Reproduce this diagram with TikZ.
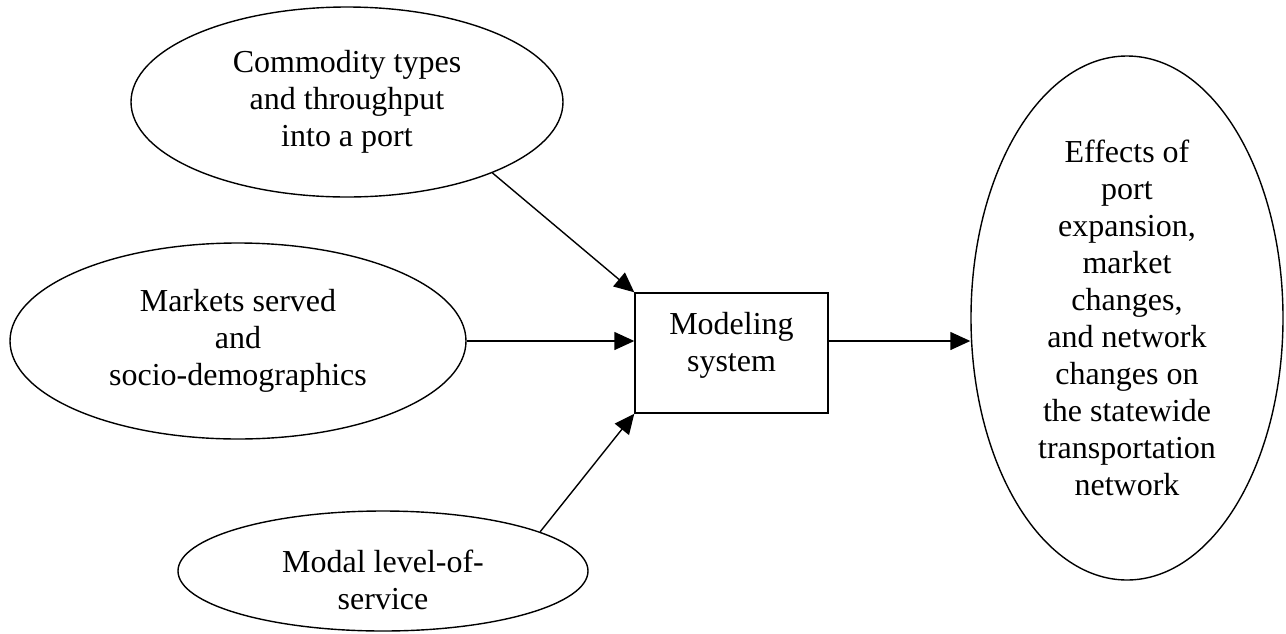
\documentclass[tikz,border=0pt]{standalone}
\usepackage{fontspec}
\setmainfont{Liberation Serif}
\usetikzlibrary{shapes.geometric,arrows.meta}

\begin{document}
\begin{tikzpicture}[x=0.5pt,y=-0.5pt,
        oval/.style={draw,ellipse,line width=0.7pt,inner sep=0pt,align=center,font=\fontsize{16}{18.5}\selectfont},
        modelbox/.style={draw,rectangle,line width=0.7pt,inner sep=0pt,align=center,font=\fontsize{16}{18.5}\selectfont},
        arr/.style={-{Triangle[length=10pt,width=9pt]},line width=0.7pt}]
        \useasboundingbox(0,0)rectangle(1286,633);

        \node[oval,minimum width=216pt,minimum height=95pt](comm)at(347,102){Commodity types\\and throughput\\into a port};
        \node[oval,minimum width=228pt,minimum height=98pt](markets)at(238,341){Markets served\\and\\socio-demographics};
        \node[oval,minimum width=205pt,minimum height=60pt,text height=38.5pt](modal)at(383,571){Modal level-of-\\service};
        \node[modelbox,minimum width=96.5pt,minimum height=60pt,text depth=11.5pt](model)at(731.5,353){Modeling\\system};
        \node[oval,minimum width=156pt,minimum height=262pt](effects)at(1127,318){Effects of\\port\\expansion,\\market\\changes,\\and network\\changes on\\the statewide\\transportation\\network};

        \draw[arr](comm.-26)--(model.north west);
        \draw[arr](markets.east)--(markets.east-|model.west);
        \draw[arr](modal.14)--(model.south west);
        \draw[arr](markets.east-|model.east)--(markets.east-|effects.west);
    \end{tikzpicture}
\end{document}
